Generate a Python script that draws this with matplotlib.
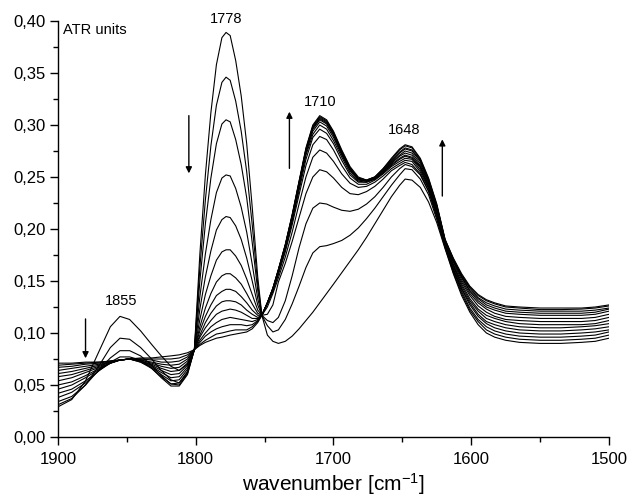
import matplotlib
matplotlib.use("Agg")
import matplotlib.pyplot as plt
from matplotlib.ticker import MultipleLocator, FuncFormatter

plt.rcParams['font.family'] = ['Liberation Sans', 'DejaVu Sans']

wavenumber = [1900, 1890, 1880, 1870, 1862, 1855, 1848, 1840, 1832, 1825, 1818, 1812, 1806, 1801,
              1797, 1793, 1789, 1785, 1781, 1778, 1775, 1771, 1767, 1763, 1759, 1755, 1752,
              1748, 1744, 1740, 1735, 1730, 1725, 1720, 1715, 1710, 1705, 1700,
              1694, 1688, 1682, 1676, 1670, 1664, 1658, 1652, 1648,
              1643, 1637, 1631, 1625, 1619, 1613, 1607, 1601,
              1595, 1589, 1583, 1575, 1565, 1550, 1535, 1520, 1510, 1500]

# ATR absorbance, one spectrum per measurement (first to last)
spec_01 = [0.029, 0.036, 0.054, 0.083, 0.106, 0.116, 0.113, 0.102, 0.089, 0.078, 0.068, 0.064, 0.070, 0.084,
           0.176, 0.252, 0.312, 0.358, 0.384, 0.389, 0.386, 0.362, 0.328, 0.282, 0.221, 0.154, 0.117,
           0.098, 0.092, 0.090, 0.092, 0.097, 0.104, 0.112, 0.120, 0.129, 0.138, 0.147,
           0.158, 0.169, 0.180, 0.192, 0.205, 0.218, 0.231, 0.242, 0.248,
           0.247, 0.240, 0.226, 0.206, 0.181, 0.157, 0.136, 0.120,
           0.108, 0.100, 0.096, 0.093, 0.091, 0.090, 0.090, 0.091, 0.092, 0.095]
spec_02 = [0.031, 0.037, 0.050, 0.069, 0.086, 0.095, 0.094, 0.086, 0.075, 0.064, 0.055, 0.052, 0.062, 0.084,
           0.163, 0.228, 0.280, 0.319, 0.341, 0.346, 0.343, 0.323, 0.294, 0.255, 0.204, 0.147, 0.117,
           0.107, 0.101, 0.103, 0.113, 0.128, 0.145, 0.163, 0.177, 0.183, 0.184, 0.186,
           0.189, 0.194, 0.201, 0.210, 0.220, 0.231, 0.242, 0.252, 0.258,
           0.257, 0.248, 0.233, 0.209, 0.182, 0.158, 0.138, 0.122,
           0.111, 0.103, 0.099, 0.096, 0.094, 0.093, 0.093, 0.094, 0.095, 0.098]
spec_03 = [0.034, 0.039, 0.050, 0.065, 0.076, 0.083, 0.083, 0.078, 0.069, 0.059, 0.051, 0.050, 0.061, 0.084,
           0.150, 0.205, 0.249, 0.282, 0.301, 0.305, 0.303, 0.286, 0.262, 0.230, 0.187, 0.141, 0.117,
           0.112, 0.110, 0.115, 0.131, 0.155, 0.182, 0.205, 0.220, 0.225, 0.224, 0.221,
           0.218, 0.217, 0.219, 0.224, 0.231, 0.240, 0.250, 0.258, 0.262,
           0.260, 0.252, 0.236, 0.211, 0.183, 0.160, 0.140, 0.124,
           0.113, 0.106, 0.102, 0.099, 0.097, 0.096, 0.096, 0.097, 0.098, 0.101]
spec_04 = [0.038, 0.043, 0.052, 0.064, 0.072, 0.077, 0.077, 0.074, 0.066, 0.057, 0.049, 0.049, 0.060, 0.084,
           0.135, 0.176, 0.209, 0.235, 0.249, 0.252, 0.251, 0.239, 0.221, 0.197, 0.166, 0.133, 0.117,
           0.118, 0.127, 0.149, 0.167, 0.188, 0.211, 0.234, 0.250, 0.257, 0.255, 0.249,
           0.240, 0.234, 0.233, 0.236, 0.241, 0.248, 0.256, 0.261, 0.264,
           0.262, 0.253, 0.237, 0.213, 0.183, 0.161, 0.142, 0.127,
           0.116, 0.109, 0.105, 0.102, 0.100, 0.099, 0.099, 0.100, 0.101, 0.103]
spec_05 = [0.042, 0.046, 0.054, 0.064, 0.071, 0.074, 0.075, 0.072, 0.066, 0.058, 0.051, 0.052, 0.063, 0.084,
           0.123, 0.154, 0.179, 0.199, 0.209, 0.212, 0.211, 0.203, 0.190, 0.172, 0.150, 0.127, 0.117,
           0.125, 0.138, 0.153, 0.173, 0.197, 0.224, 0.250, 0.269, 0.276, 0.273, 0.265,
           0.253, 0.244, 0.240, 0.241, 0.245, 0.251, 0.258, 0.263, 0.266,
           0.265, 0.255, 0.239, 0.214, 0.184, 0.162, 0.143, 0.129,
           0.118, 0.111, 0.108, 0.105, 0.103, 0.102, 0.102, 0.103, 0.104, 0.106]
spec_06 = [0.046, 0.050, 0.057, 0.065, 0.071, 0.074, 0.075, 0.072, 0.067, 0.060, 0.054, 0.055, 0.065, 0.084,
           0.113, 0.137, 0.155, 0.170, 0.178, 0.180, 0.180, 0.174, 0.165, 0.152, 0.137, 0.122, 0.117,
           0.128, 0.140, 0.156, 0.178, 0.204, 0.233, 0.261, 0.281, 0.289, 0.286, 0.276,
           0.261, 0.249, 0.243, 0.243, 0.247, 0.253, 0.260, 0.265, 0.268,
           0.267, 0.257, 0.240, 0.216, 0.185, 0.164, 0.145, 0.131,
           0.121, 0.114, 0.111, 0.108, 0.106, 0.105, 0.105, 0.106, 0.107, 0.109]
spec_07 = [0.050, 0.053, 0.059, 0.066, 0.071, 0.074, 0.075, 0.073, 0.068, 0.062, 0.057, 0.058, 0.067, 0.084,
           0.106, 0.124, 0.138, 0.149, 0.155, 0.157, 0.157, 0.153, 0.147, 0.138, 0.128, 0.119, 0.117,
           0.128, 0.141, 0.158, 0.180, 0.207, 0.237, 0.267, 0.288, 0.296, 0.292, 0.282,
           0.266, 0.252, 0.245, 0.245, 0.248, 0.254, 0.261, 0.267, 0.270,
           0.268, 0.259, 0.241, 0.217, 0.186, 0.165, 0.147, 0.133,
           0.123, 0.117, 0.114, 0.111, 0.109, 0.108, 0.108, 0.108, 0.109, 0.112]
spec_08 = [0.054, 0.057, 0.062, 0.067, 0.071, 0.074, 0.075, 0.073, 0.069, 0.064, 0.060, 0.061, 0.069, 0.084,
           0.102, 0.116, 0.127, 0.136, 0.140, 0.142, 0.142, 0.140, 0.135, 0.129, 0.122, 0.117, 0.117,
           0.129, 0.142, 0.159, 0.182, 0.209, 0.240, 0.271, 0.291, 0.300, 0.296, 0.285,
           0.269, 0.254, 0.246, 0.245, 0.248, 0.254, 0.262, 0.268, 0.271,
           0.269, 0.260, 0.242, 0.218, 0.187, 0.166, 0.149, 0.136,
           0.126, 0.120, 0.116, 0.113, 0.112, 0.111, 0.111, 0.111, 0.112, 0.115]
spec_09 = [0.058, 0.060, 0.064, 0.068, 0.072, 0.074, 0.075, 0.073, 0.070, 0.066, 0.063, 0.064, 0.071, 0.084,
           0.098, 0.110, 0.119, 0.126, 0.130, 0.131, 0.131, 0.130, 0.127, 0.122, 0.118, 0.115, 0.117,
           0.129, 0.142, 0.160, 0.183, 0.211, 0.242, 0.273, 0.294, 0.303, 0.299, 0.288,
           0.271, 0.256, 0.247, 0.246, 0.249, 0.255, 0.263, 0.270, 0.273,
           0.271, 0.261, 0.244, 0.219, 0.187, 0.168, 0.151, 0.138,
           0.129, 0.123, 0.119, 0.116, 0.115, 0.114, 0.114, 0.114, 0.115, 0.118]
spec_10 = [0.061, 0.063, 0.066, 0.069, 0.072, 0.074, 0.075, 0.074, 0.071, 0.068, 0.066, 0.067, 0.073, 0.084,
           0.096, 0.105, 0.112, 0.118, 0.121, 0.122, 0.123, 0.122, 0.120, 0.117, 0.114, 0.114, 0.117,
           0.129, 0.142, 0.160, 0.184, 0.212, 0.243, 0.275, 0.296, 0.305, 0.301, 0.290,
           0.272, 0.257, 0.248, 0.246, 0.249, 0.256, 0.264, 0.271, 0.275,
           0.273, 0.263, 0.245, 0.221, 0.188, 0.169, 0.153, 0.140,
           0.131, 0.125, 0.122, 0.119, 0.118, 0.117, 0.117, 0.117, 0.118, 0.121]
spec_11 = [0.064, 0.066, 0.068, 0.070, 0.072, 0.074, 0.075, 0.074, 0.072, 0.070, 0.069, 0.070, 0.075, 0.084,
           0.093, 0.100, 0.106, 0.110, 0.113, 0.114, 0.115, 0.114, 0.113, 0.112, 0.111, 0.113, 0.117,
           0.129, 0.143, 0.160, 0.184, 0.212, 0.244, 0.276, 0.297, 0.306, 0.302, 0.291,
           0.273, 0.258, 0.248, 0.246, 0.249, 0.256, 0.265, 0.273, 0.277,
           0.275, 0.265, 0.246, 0.222, 0.189, 0.170, 0.154, 0.141,
           0.133, 0.127, 0.124, 0.121, 0.120, 0.119, 0.119, 0.119, 0.120, 0.123]
spec_12 = [0.067, 0.068, 0.070, 0.071, 0.073, 0.074, 0.075, 0.075, 0.074, 0.072, 0.072, 0.073, 0.077, 0.084,
           0.091, 0.097, 0.101, 0.104, 0.106, 0.107, 0.108, 0.108, 0.108, 0.107, 0.108, 0.112, 0.117,
           0.129, 0.143, 0.161, 0.184, 0.213, 0.245, 0.276, 0.298, 0.307, 0.303, 0.292,
           0.274, 0.258, 0.249, 0.247, 0.250, 0.257, 0.266, 0.274, 0.278,
           0.276, 0.266, 0.247, 0.222, 0.189, 0.171, 0.155, 0.143,
           0.134, 0.129, 0.126, 0.123, 0.122, 0.121, 0.121, 0.121, 0.122, 0.124]
spec_13 = [0.069, 0.070, 0.071, 0.072, 0.073, 0.074, 0.075, 0.075, 0.075, 0.075, 0.075, 0.076, 0.079, 0.084,
           0.089, 0.093, 0.096, 0.099, 0.100, 0.101, 0.102, 0.103, 0.103, 0.103, 0.106, 0.111, 0.117,
           0.129, 0.143, 0.161, 0.185, 0.213, 0.245, 0.277, 0.299, 0.308, 0.304, 0.293,
           0.275, 0.259, 0.249, 0.247, 0.250, 0.258, 0.267, 0.276, 0.280,
           0.278, 0.267, 0.248, 0.223, 0.190, 0.171, 0.156, 0.144,
           0.136, 0.131, 0.128, 0.125, 0.124, 0.1225, 0.1225, 0.123, 0.124, 0.126]
spec_14 = [0.071, 0.071, 0.072, 0.072, 0.073, 0.074, 0.075, 0.076, 0.076, 0.077, 0.078, 0.079, 0.081, 0.084,
           0.088, 0.091, 0.093, 0.095, 0.096, 0.097, 0.098, 0.099, 0.100, 0.101, 0.104, 0.110, 0.117,
           0.129, 0.143, 0.161, 0.185, 0.214, 0.246, 0.278, 0.300, 0.309, 0.305, 0.294,
           0.276, 0.260, 0.250, 0.247, 0.250, 0.258, 0.268, 0.277, 0.281,
           0.279, 0.268, 0.249, 0.224, 0.190, 0.172, 0.157, 0.145,
           0.137, 0.132, 0.129, 0.126, 0.125, 0.124, 0.124, 0.124, 0.125, 0.127]

spectra = [spec_01, spec_02, spec_03, spec_04, spec_05, spec_06, spec_07,
           spec_08, spec_09, spec_10, spec_11, spec_12, spec_13, spec_14]

band_labels = ['1855', '1778', '1710', '1648']
band_label_pos = [(1854, 0.131), (1778, 0.402), (1710, 0.322), (1649, 0.295)]
# arrows: (wavenumber, start, end)
trend_arrows = [(1880, 0.1135, 0.0757), (1805, 0.309, 0.2535),
                (1732, 0.2583, 0.3128), (1621, 0.2317, 0.2862)]

fig = plt.figure(figsize=(6.33, 5.0), dpi=100)
ax = fig.add_axes([0.0916, 0.126, 0.8705, 0.832])

for s in spectra:
    ax.plot(wavenumber, s, color='black', lw=0.8)

ax.set_xlim(1900, 1500)
ax.set_ylim(0, 0.40)
ax.xaxis.set_major_locator(MultipleLocator(100))
ax.xaxis.set_minor_locator(MultipleLocator(50))
ax.yaxis.set_major_locator(MultipleLocator(0.05))
ax.yaxis.set_minor_locator(MultipleLocator(0.025))
ax.yaxis.set_major_formatter(FuncFormatter(lambda v, p: f"{v:.2f}".replace('.', ',')))
ax.tick_params(which='major', direction='out', length=6, width=1, labelsize=12, pad=3)
ax.tick_params(which='minor', direction='out', length=3.5, width=1)
ax.tick_params(axis='x', which='major', pad=5)
for side in ('top', 'right'):
    ax.spines[side].set_visible(False)
for side in ('left', 'bottom'):
    ax.spines[side].set_linewidth(1)

ax.set_xlabel(r'wavenumber [cm$\mathregular{^{-1}}$]', fontsize=15, labelpad=3)
ax.text(1896.5, 0.391, 'ATR units', fontsize=10.5, va='center', ha='left')

for txt, (x, y) in zip(band_labels, band_label_pos):
    ax.text(x, y, txt, fontsize=10.5, ha='center', va='center', clip_on=False)

for x, y0, y1 in trend_arrows:
    ax.annotate('', xy=(x, y1), xytext=(x, y0),
                arrowprops=dict(arrowstyle='-|>', color='black', lw=1,
                                mutation_scale=9, shrinkA=0, shrinkB=0))

fig.savefig('out.png', dpi=100)
